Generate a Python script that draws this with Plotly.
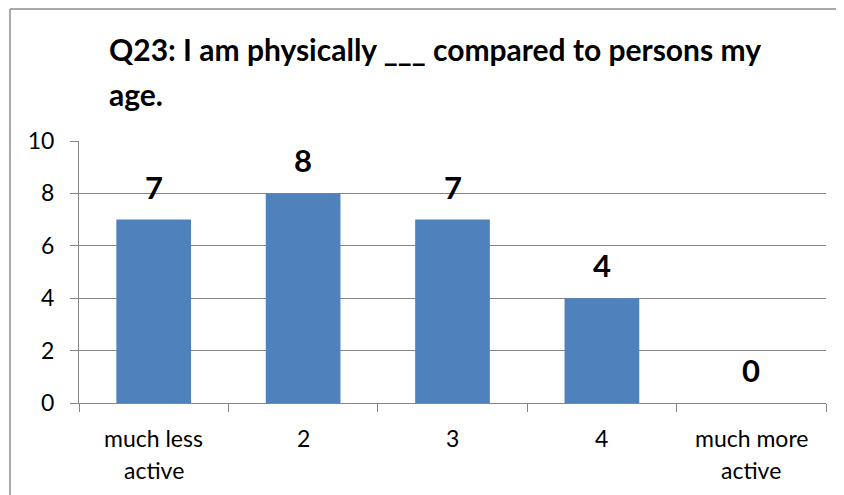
import plotly.graph_objects as go

categories = ["much less active", "2", "3", "4", "much more active"]
cat_lines = [["much less", "active"], ["2"], ["3"], ["4"], ["much more", "active"]]
values = [7, 8, 7, 4, 0]
title_lines = ["Q23: I am physically ___ compared to persons my", "age."]
y_ticks = [0, 2, 4, 6, 8, 10]

FONT = "Lato"
GRID = "#868686"

fig = go.Figure()
fig.add_trace(go.Bar(x=categories, y=values, marker=dict(color="#4F81BD", line=dict(width=0)),
                     width=0.5, hoverinfo="skip"))

annotations = []
# data labels (category axis positions by index)
for i, v in enumerate(values):
    annotations.append(dict(x=i, y=v, xref="x", yref="y", text=f"<b>{v}</b>", showarrow=False,
                            yanchor="middle", yshift=33, font=dict(family=FONT, size=31, color="black")))
# category labels
for i, lines in enumerate(cat_lines):
    for j, ln in enumerate(lines):
        annotations.append(dict(x=i, y=0, xref="x", yref="paper", text=ln, showarrow=False,
                                yanchor="middle", yshift=-35 - 32 * j,
                                font=dict(family=FONT, size=23, color="black")))
# title
title_y = [1.351, 1.179]
for ln, ty in zip(title_lines, title_y):
    annotations.append(dict(x=0.0375, y=ty, xref="paper", yref="paper", text=f"<b>{ln}</b>",
                            showarrow=False, xanchor="left", yanchor="middle",
                            font=dict(family=FONT, size=30, color="black")))

fig.update_layout(
    width=844, height=495,
    margin=dict(l=71, r=26, t=133, b=100),
    paper_bgcolor="white", plot_bgcolor="white",
    showlegend=False,
    annotations=annotations,
    shapes=[
        dict(type="line", xref="paper", yref="paper", x0=-0.0924, x1=-0.0924, y0=-0.5, y1=1.5038,
             line=dict(color="#8C8C8C", width=1.5)),
        dict(type="line", xref="paper", yref="paper", x0=-0.0924, x1=1.1, y0=1.5038, y1=1.5038,
             line=dict(color="#8C8C8C", width=1.5)),
    ],
)
fig.update_yaxes(range=[0, 10], tickvals=y_ticks, showgrid=True, gridcolor=GRID, gridwidth=1,
                 showline=True, linecolor=GRID, linewidth=1, ticks="outside", ticklen=8,
                 tickcolor=GRID, ticklabelstandoff=11, zeroline=False, automargin=False,
                 tickfont=dict(family=FONT, size=23, color="black"))
fig.update_xaxes(type="category", categoryorder="array", categoryarray=categories,
                 showticklabels=False, showline=True, linecolor=GRID, linewidth=1,
                 ticks="outside", ticklen=8, tickcolor=GRID, tickson="boundaries", showgrid=False,
                 automargin=False)

fig.write_html("out.html")
